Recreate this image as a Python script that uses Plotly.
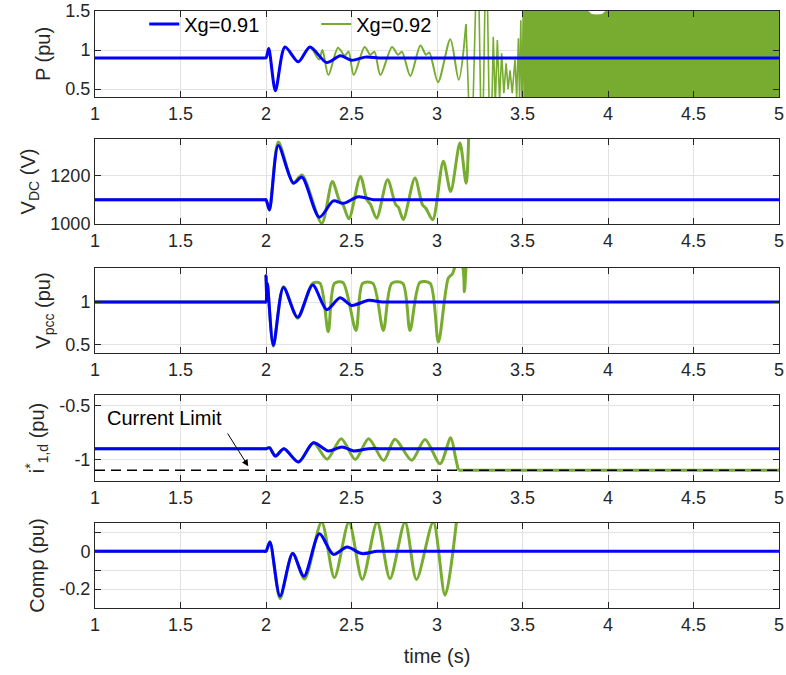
import plotly.graph_objects as go

# ---------------- data ----------------
# Panel 1 : active power P (pu)
p_t_091 = [1.0, 1.5, 1.99, 2.0, 2.016, 2.055, 2.111, 2.189, 2.257, 2.355, 2.435, 2.50, 2.58, 2.66,
           2.75, 3.0, 4.0, 5.0]
p_v_091 = [0.9, 0.9, 0.9, 0.9, 1.02, 0.48, 1.04, 0.85, 1.04, 0.84, 0.927, 0.87, 0.91, 0.9,
           0.9, 0.9, 0.9, 0.9]

p_t_092 = [1.0, 1.5, 1.99, 2.0, 2.016, 2.055, 2.111, 2.189, 2.257, 2.31, 2.33, 2.365, 2.421, 2.46,
           2.483, 2.513, 2.577, 2.61, 2.634, 2.669, 2.737, 2.772, 2.795, 2.844, 2.903, 2.936, 2.955,
           3.006, 3.078, 3.127, 3.17]
p_v_092 = [0.9, 0.9, 0.9, 0.9, 1.02, 0.48, 1.04, 0.85, 1.04, 0.88, 1.0, 0.68, 1.03, 0.93,
           0.98, 0.68, 1.04, 0.94, 0.98, 0.68, 1.04, 0.94, 0.98, 0.67, 1.06, 0.94, 0.97,
           0.59, 1.14, 0.62, 1.33]
# unstable part (large swings, clipped by the axis)
p_t_092_swing = [3.17, 3.20, 3.238, 3.263, 3.288, 3.312, 3.329, 3.341, 3.353, 3.366, 3.378, 3.391,
                 3.404, 3.416, 3.427, 3.44, 3.456, 3.466, 3.476, 3.483, 3.49, 3.497, 3.505, 3.51, 3.515]
p_v_092_swing = [1.33, -0.6, 2.6, -0.7, 2.6, -0.7, 1.17, 0.3, 1.13, 0.35, 0.96, 0.45,
                 0.83, 0.5, 0.74, 0.45, 0.88, 0.4, 1.15, 0.35, 1.38, 0.3, 1.6, 0.2, 1.7]
# envelope of the dense oscillation after 3.5 s
p_env_t = [3.512, 3.875, 3.885, 3.905, 3.935, 3.965, 3.985, 3.995, 5.0]
p_env_hi = [1.7, 1.7, 1.5, 1.463, 1.455, 1.463, 1.5, 1.7, 1.7]
p_env_lo = [0.2, 0.2, 0.2, 0.2, 0.2, 0.2, 0.2, 0.2, 0.2]

# Panel 2 : DC voltage (V)
vdc_t_091 = [1.0, 1.5, 1.99, 2.0, 2.02, 2.072, 2.16, 2.21, 2.312, 2.394, 2.452, 2.54, 2.63, 2.70,
             3.0, 4.0, 5.0]
vdc_v_091 = [1100, 1100, 1100, 1100, 1058, 1323, 1168, 1193, 1028, 1095, 1085, 1112, 1100, 1100,
             1100, 1100, 1100]
vdc_t_092 = [1.0, 1.5, 1.99, 2.0, 2.02, 2.072, 2.16, 2.21, 2.326, 2.388, 2.43, 2.45, 2.485, 2.552,
             2.59, 2.61, 2.647, 2.711, 2.758, 2.775, 2.803, 2.871, 2.915, 2.935, 2.975,
             3.037, 3.08, 3.134, 3.17, 3.19]
vdc_v_092 = [1100, 1100, 1100, 1100, 1058, 1338, 1170, 1202, 1003, 1175, 1095, 1080, 1022, 1196,
             1100, 1082, 1024, 1182, 1080, 1068, 1019, 1189, 1079, 1065, 1017,
             1258, 1134, 1334, 1168, 1500]

# Panel 3 : PCC voltage (pu)
vpcc_t_091 = [1.0, 1.5, 1.99, 1.999, 2.0, 2.004, 2.008, 2.043, 2.102, 2.185, 2.273, 2.355, 2.433,
              2.50, 2.60, 2.68, 2.8, 3.5, 4.5, 5.0]
vpcc_v_091 = [1.0, 1.0, 1.0, 1.0, 1.31, 1.08, 1.22, 0.49, 1.17, 0.82, 1.20, 0.91, 1.05,
              0.96, 1.02, 1.0, 1.0, 1.0, 1.0, 1.0]
vpcc_t_092 = [1.0, 1.5, 1.99, 1.999, 2.0, 2.004, 2.008, 2.043, 2.102, 2.185, 2.273, 2.316, 2.364,
              2.40, 2.45, 2.526, 2.565, 2.625, 2.686, 2.735, 2.80, 2.842, 2.90, 2.96, 3.008,
              3.066, 3.09, 3.12, 3.15, 3.16, 3.17, 3.185]
vpcc_v_092 = [1.0, 1.0, 1.0, 1.0, 1.31, 1.08, 1.22, 0.48, 1.18, 0.81, 1.22, 1.22, 0.65,
              1.22, 1.23, 0.665, 1.22, 1.22, 0.665, 1.22, 1.22, 0.665, 1.23, 1.22, 0.53,
              1.28, 1.33, 1.48, 1.41, 1.12, 1.41, 1.7]

# Panel 4 : d-axis current reference (pu)
id_t_091 = [1.0, 1.5, 1.99, 2.0, 2.02, 2.055, 2.105, 2.19, 2.277, 2.365, 2.444, 2.513, 2.60, 2.70,
            3.0, 4.0, 5.0]
id_v_091 = [-0.9, -0.9, -0.9, -0.9, -0.89, -0.968, -0.9, -1.024, -0.845, -0.92, -0.883, -0.92, -0.9,
            -0.9, -0.9, -0.9, -0.9]
id_t_092 = [1.0, 1.5, 1.99, 2.0, 2.02, 2.055, 2.105, 2.19, 2.277, 2.357, 2.44, 2.522, 2.60, 2.688,
            2.754, 2.852, 2.93, 3.018, 3.08, 3.108, 3.125]
id_v_092 = [-0.9, -0.9, -0.9, -0.9, -0.89, -0.968, -0.9, -1.024, -0.845, -0.997, -0.806, -1.0, -0.806,
            -1.01, -0.812, -1.008, -0.814, -1.04, -0.797, -0.98, -1.1]
id_t_092_lim = [3.125, 5.0]
id_v_092_lim = [-1.1, -1.1]
current_limit_t = [1.0, 5.0]
current_limit_v = [-1.1, -1.1]

# Panel 5 : compensation signal (pu)
comp_t_091 = [1.0, 1.5, 1.99, 2.0, 2.023, 2.082, 2.156, 2.222, 2.312, 2.394, 2.474, 2.56, 2.65,
              2.8, 3.5, 4.5, 5.0]
comp_v_091 = [0.0, 0.0, 0.0, 0.0, 0.049, -0.237, -0.012, -0.132, 0.093, -0.016, 0.023, -0.012, 0.0,
              0.0, 0.0, 0.0, 0.0]
comp_t_092 = [1.0, 1.5, 1.99, 2.0, 2.023, 2.082, 2.156, 2.225, 2.325, 2.40, 2.485, 2.563, 2.65,
              2.725, 2.813, 2.88, 2.978, 3.047, 3.125]
comp_v_092 = [0.0, 0.0, 0.0, 0.0, 0.049, -0.25, -0.01, -0.147, 0.155, -0.139, 0.155, -0.149, 0.155,
              -0.144, 0.155, -0.149, 0.155, -0.232, 0.25]

x_ticks = [1, 1.5, 2, 2.5, 3, 3.5, 4, 4.5, 5]
y_titles = ["P (pu)", "V<sub>DC</sub> (V)", "V<sub>pcc</sub> (pu)",
            "i<sup>*</sup><sub>1,d</sub> (pu)", "Comp (pu)"]
y_ranges = [[0.4, 1.5], [1000, 1350], [0.4, 1.4], [-1.2, -0.4], [-0.3, 0.15]]
y_tickvals = [[0.5, 1, 1.5], [1000, 1200], [0.5, 1], [-1, -0.5], [-0.2, 0]]
y_ticktext = [["0.5", "1", "1.5"], ["1000", "1200"], ["0.5", "1"], ["-1", "-0.5"], ["-0.2", "0"]]
comp_minor_ticks = [-0.1, 0.1]
series_names = ["Xg=0.91", "Xg=0.92"]

# ---------------- styling ----------------
BLUE = "#0000FF"
GREEN = "#77AC30"
AX = "#262626"
GRID = "#e2e2e2"
FONT = "Liberation Sans, Arial, sans-serif"

W, H = 786, 675
ML, MR, MT, MB = 95, 7, 11, 67
PH = H - MT - MB
panel_px = [(11, 97), (139, 224), (268, 353), (395, 481), (523, 608)]


def dom(top, bot):
    return [(H - MB - bot) / PH, (H - MB - top) / PH]


fig = go.Figure()


def line(x, y, i, color, width, name=None, show=False, shape="spline", rank=None, dash=None):
    fig.add_trace(go.Scatter(
        x=x, y=y, mode="lines", name=name, showlegend=show,
        line=dict(color=color, width=width, shape=shape, dash=dash,
                  smoothing=0.8 if shape == "spline" else None),
        xaxis="x" if i == 1 else f"x{i}", yaxis="y" if i == 1 else f"y{i}",
        legendrank=rank if rank else 1000, hoverinfo="skip"))


# panel 1
fig.add_trace(go.Scatter(
    x=p_env_t + p_env_t[::-1], y=p_env_hi + p_env_lo[::-1], fill="toself",
    fillcolor=GREEN, line=dict(width=0, color=GREEN), mode="lines",
    showlegend=False, xaxis="x", yaxis="y", hoverinfo="skip"))
line(p_t_092_swing, p_v_092_swing, 1, GREEN, 1.6, shape="linear")
line(p_t_092, p_v_092, 1, GREEN, 2, name=series_names[1], show=True, rank=2)
line(p_t_091, p_v_091, 1, BLUE, 3, name=series_names[0], show=True, rank=1)
# panel 2
line(vdc_t_092, vdc_v_092, 2, GREEN, 3)
line(vdc_t_091, vdc_v_091, 2, BLUE, 3)
# panel 3
line(vpcc_t_092, vpcc_v_092, 3, GREEN, 3)
line(vpcc_t_091, vpcc_v_091, 3, BLUE, 3)
# panel 4
line(id_t_092, id_v_092, 4, GREEN, 3)
line(id_t_092_lim, id_v_092_lim, 4, GREEN, 3, shape="linear")
line(id_t_091, id_v_091, 4, BLUE, 3)
line(current_limit_t, current_limit_v, 4, "black", 1.3, shape="linear", dash="10px,6px")
# panel 5
line(comp_t_092, comp_v_092, 5, GREEN, 3)
line(comp_t_091, comp_v_091, 5, BLUE, 3)

layout = dict(
    width=W, height=H, margin=dict(l=ML, r=MR, t=MT, b=MB, autoexpand=False),
    paper_bgcolor="white", plot_bgcolor="white",
    font=dict(family=FONT, size=18, color=AX),
    legend=dict(orientation="h", x=0.072, y=(H - MB - 24) / PH, xanchor="left", yanchor="middle",
                bgcolor="rgba(0,0,0,0)", font=dict(size=20, color="black"),
                entrywidth=127, itemwidth=30, traceorder="normal"),
    annotations=[
        dict(text="Current Limit", x=1.409, y=-0.618, xref="x4", yref="y4", showarrow=False,
             font=dict(size=20, color="black", family=FONT)),
        dict(text="", x=1.896, y=-1.062, ax=1.77, ay=-0.744, xref="x4", yref="y4",
             axref="x4", ayref="y4", showarrow=True, arrowhead=2, arrowsize=1.3,
             arrowwidth=1, arrowcolor="black"),
    ],
)

for i in range(1, 6):
    xs = "xaxis" if i == 1 else f"xaxis{i}"
    ys = "yaxis" if i == 1 else f"yaxis{i}"
    top, bot = panel_px[i - 1]
    common = dict(showline=True, linecolor=AX, linewidth=1, mirror="allticks",
                  ticks="inside", ticklen=6, tickcolor=AX, tickwidth=1,
                  showgrid=True, gridcolor=GRID, gridwidth=1, zeroline=False,
                  tickfont=dict(size=18, color=AX, family=FONT), automargin=False)
    layout[xs] = dict(common, domain=[0, 1], range=[1, 5], tickvals=x_ticks,
                      anchor="y" if i == 1 else f"y{i}")
    layout[ys] = dict(common, domain=dom(top, bot), range=y_ranges[i - 1],
                      tickvals=y_tickvals[i - 1], ticktext=y_ticktext[i - 1],
                      anchor="x" if i == 1 else f"x{i}",
                      title=dict(text=y_titles[i - 1], standoff=9,
                                 font=dict(size=20, color=AX, family=FONT)))

layout["yaxis5"]["minor"] = dict(tickvals=comp_minor_ticks, ticks="inside", ticklen=6,
                                 tickcolor=AX, showgrid=True, gridcolor=GRID, gridwidth=1)
layout["xaxis5"]["title"] = dict(text="time (s)", font=dict(size=20, color=AX, family=FONT))

fig.update_layout(**layout)
fig.write_html("out.html")
